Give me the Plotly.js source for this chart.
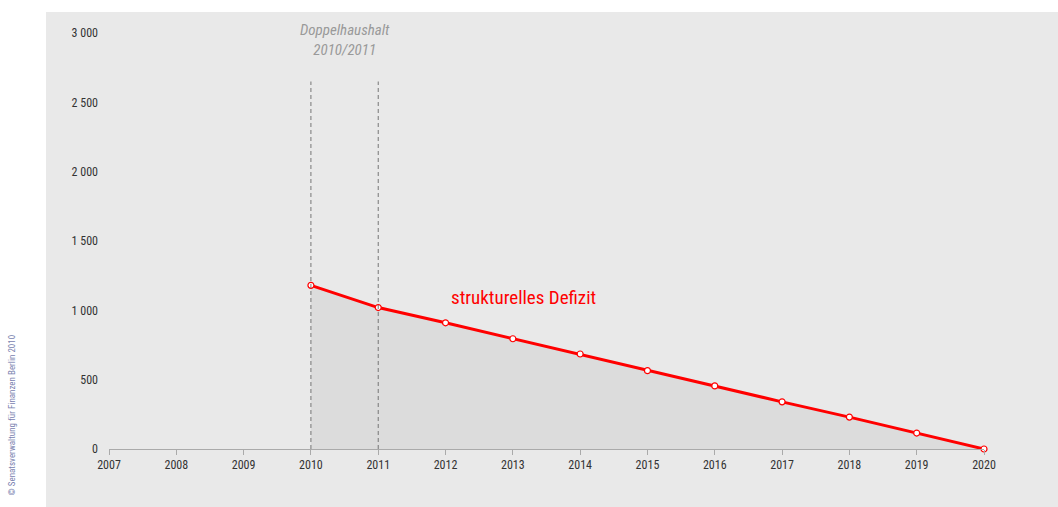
<!DOCTYPE html>
<html><head><meta charset="utf-8">
<script src="https://cdn.plot.ly/plotly-3.0.1.min.js"></script>
<style>body{margin:0;background:#fff}#c{width:1058px;height:507px}</style>
</head><body><div id="c"></div>
<script>
const years = [2010, 2011, 2012, 2013, 2014, 2015, 2016, 2017, 2018, 2019, 2020];
const deficit = [1180, 1020, 910, 795, 685, 565, 455, 340, 230, 115, 0];
const xTicks = [2007, 2008, 2009, 2010, 2011, 2012, 2013, 2014, 2015, 2016, 2017, 2018, 2019, 2020];
const yTicks = [0, 500, 1000, 1500, 2000, 2500, 3000];
const yTickText = ['0', '500', '1 000', '1 500', '2 000', '2 500', '3 000'];
const budgetYears = [2010, 2011];
const seriesLabel = 'strukturelles Defizit';
const budgetLabel = 'Doppelhaushalt<br>2010/2011';
const source = '© Senatsverwaltung für Finanzen Berlin 2010';

const font = 'Liberation Sans Narrow, Arial Narrow, Roboto Condensed, sans-serif';

const traces = [{
  x: years, y: deficit, type: 'scatter', mode: 'lines+markers',
  fill: 'tozeroy', fillcolor: '#dcdcdc', cliponaxis: false,
  line: {color: '#ff0000', width: 3},
  marker: {size: 6, color: '#ffffff', line: {color: '#ff0000', width: 1.2}},
  hoverinfo: 'skip', showlegend: false
}];

const shapes = [{
  type: 'rect', xref: 'paper', yref: 'paper',
  x0: -0.072, x1: 1.0846, y0: -0.1394, y1: 1.0505,
  fillcolor: '#e9e9e9', line: {width: 0}, layer: 'below'
}].concat(budgetYears.map(yr => ({
  type: 'line', xref: 'x', yref: 'y', x0: yr, x1: yr, y0: 0, y1: 2650,
  line: {color: '#777', width: 1, dash: '4px,3px'}, layer: 'above'
})));

const layout = {
  width: 1058, height: 507,
  margin: {l: 109, r: 74, t: 33, b: 58},
  paper_bgcolor: '#ffffff', plot_bgcolor: 'rgba(0,0,0,0)',
  font: {family: font, size: 12, color: '#333'},
  xaxis: {
    range: [2007, 2020], tickvals: xTicks, ticktext: xTicks.map(String),
    showgrid: false, zeroline: false, showline: true, linecolor: '#aaa', linewidth: 1,
    ticks: 'outside', ticklen: 5, tickcolor: '#aaa',
    tickfont: {family: font, size: 12, color: '#333'}, fixedrange: true
  },
  yaxis: {
    range: [0, 3000], tickvals: yTicks, ticktext: yTickText,
    showgrid: false, zeroline: false, showline: false, ticks: '',
    ticklabelstandoff: 10,
    tickfont: {family: font, size: 12, color: '#333'}, fixedrange: true
  },
  shapes: shapes,
  annotations: [
    {xref: 'x', yref: 'y', x: 2010.5, y: 3000, text: budgetLabel, showarrow: false,
     xanchor: 'center', yanchor: 'middle', yshift: -7,
     font: {family: font, size: 15, color: '#999'}},
    {xref: 'x', yref: 'y', x: 2012.05, y: 1090, text: seriesLabel, showarrow: false,
     xanchor: 'left', yanchor: 'middle',
     font: {family: font, size: 19, color: '#ff0000'}},
    {xref: 'paper', yref: 'paper', x: -0.111, y: -0.0, text: source, showarrow: false,
     xanchor: 'center', yanchor: 'bottom', textangle: -90, yshift: -48,
     font: {family: font, size: 9, color: '#7a82b0'}}
  ]
};
layout.annotations[0].text = '<i>' + budgetLabel.replace('<br>', '</i><br><i>') + '</i>';
Plotly.newPlot('c', traces, layout, {displayModeBar: false, staticPlot: true});
</script></body></html>
